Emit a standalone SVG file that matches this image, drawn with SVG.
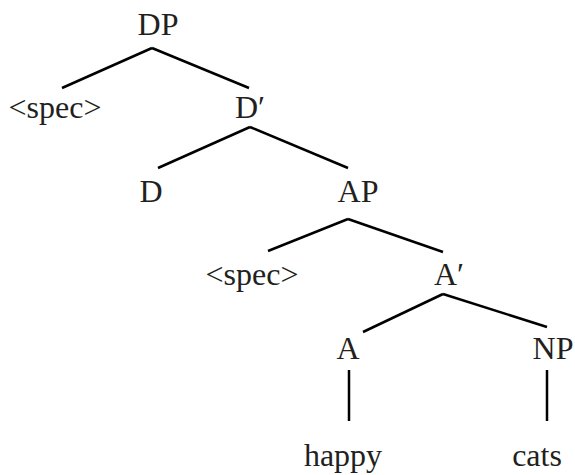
<svg xmlns="http://www.w3.org/2000/svg" width="575" height="475" viewBox="0 0 575 475">
  <style>
    .lbl { font-family: "Liberation Serif", "Times New Roman", serif; font-size: 32px; fill: #231f20; text-anchor: middle; }
    .edge { stroke: #000; stroke-width: 2.5; stroke-linecap: butt; fill: none; }
  </style>
  <rect width="575" height="475" fill="#fff"/>
  <g id="connectors">
    <line class="edge" x1="152" y1="48" x2="62" y2="88"/>
    <line class="edge" x1="152" y1="48" x2="249" y2="88"/>
    <line class="edge" x1="250" y1="127" x2="158" y2="168"/>
    <line class="edge" x1="250" y1="127" x2="348" y2="168"/>
    <line class="edge" x1="348" y1="219" x2="268" y2="251"/>
    <line class="edge" x1="348" y1="219" x2="443" y2="252"/>
    <line class="edge" x1="443" y1="294" x2="363" y2="332"/>
    <line class="edge" x1="443" y1="294" x2="547" y2="327"/>
    <line class="edge" x1="349" y1="370" x2="349" y2="421"/>
    <line class="edge" x1="547" y1="370" x2="547" y2="421"/>
  </g>
  <g id="DP"><text class="lbl" x="158" y="35">DP</text></g>
  <g id="spec1"><text class="lbl" x="55" y="118">&lt;spec&gt;</text></g>
  <g id="Dbar"><text class="lbl" x="250" y="118">D′</text></g>
  <g id="D"><text class="lbl" x="151" y="202">D</text></g>
  <g id="AP"><text class="lbl" x="358" y="202">AP</text></g>
  <g id="spec2"><text class="lbl" x="252" y="285">&lt;spec&gt;</text></g>
  <g id="Abar"><text class="lbl" x="449" y="285">A′</text></g>
  <g id="A"><text class="lbl" x="348" y="359">A</text></g>
  <g id="NP"><text class="lbl" x="553" y="359">NP</text></g>
  <g id="happy"><text class="lbl" x="343" y="466">happy</text></g>
  <g id="cats"><text class="lbl" x="537" y="466">cats</text></g>
</svg>
